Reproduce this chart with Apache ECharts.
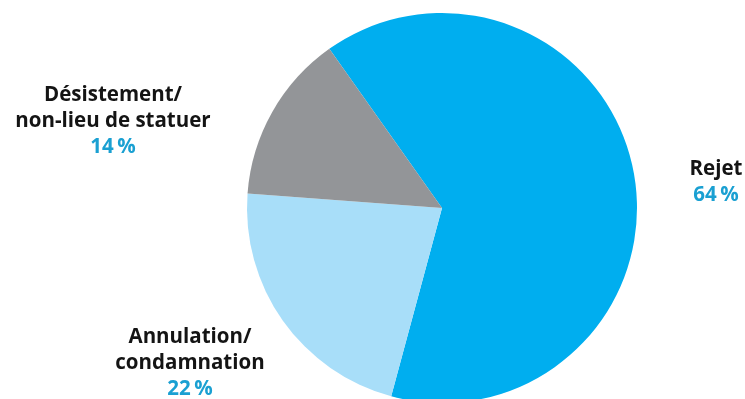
<!DOCTYPE html>
<html>
<head>
<meta charset="utf-8">
<script src="https://cdn.jsdelivr.net/npm/echarts@6/dist/echarts.min.js"></script>
<style>
html,body{margin:0;padding:0;background:#fff;}
#chart{width:745px;height:399px;}
</style>
</head>
<body>
<div id="chart"></div>
<script>
// Répartition des décisions
const categories = ['Rejet', 'Annulation/\ncondamnation', 'Désistement/\nnon-lieu de statuer'];
const shares = [64, 22, 14];
const colors = ['#00AEEF', '#A8DEF9', '#939598'];

// label anchor positions (text block centres)
const labelSpots = [
  { x: 716, y: 182 },
  { x: 190, y: 363 },
  { x: 113, y: 121 }
];

const chart = echarts.init(document.getElementById('chart'));

chart.setOption({
  animation: false,
  series: [{
    type: 'pie',
    center: [442, 208],
    radius: [0, 195],
    startAngle: 125.3,
    clockwise: true,
    data: categories.map((name, i) => ({
      name: name,
      value: shares[i],
      itemStyle: { color: colors[i] }
    })),
    itemStyle: { borderWidth: 0 },
    emphasis: { disabled: true },
    labelLine: { show: false },
    label: {
      show: true,
      position: 'outside',
      overflow: 'none',
      formatter: function (p) {
        const lines = p.name.split('\n').map(l => '{n|' + l + '}');
        return lines.join('\n') + '\n{p|' + p.value + '\u2009%}';
      },
      rich: {
        n: { fontFamily: 'Open Sans', fontWeight: 'bold', fontSize: 20.5, color: '#141414', lineHeight: 26, align: 'center' },
        p: { fontFamily: 'Open Sans', fontWeight: 'bold', fontSize: 20.5, color: '#1AA0D2', lineHeight: 26, align: 'center' }
      }
    },
    labelLayout: function (params) {
      const s = labelSpots[params.dataIndex];
      return { x: s.x, y: s.y, align: 'center', verticalAlign: 'middle' };
    }
  }]
});
</script>
</body>
</html>
